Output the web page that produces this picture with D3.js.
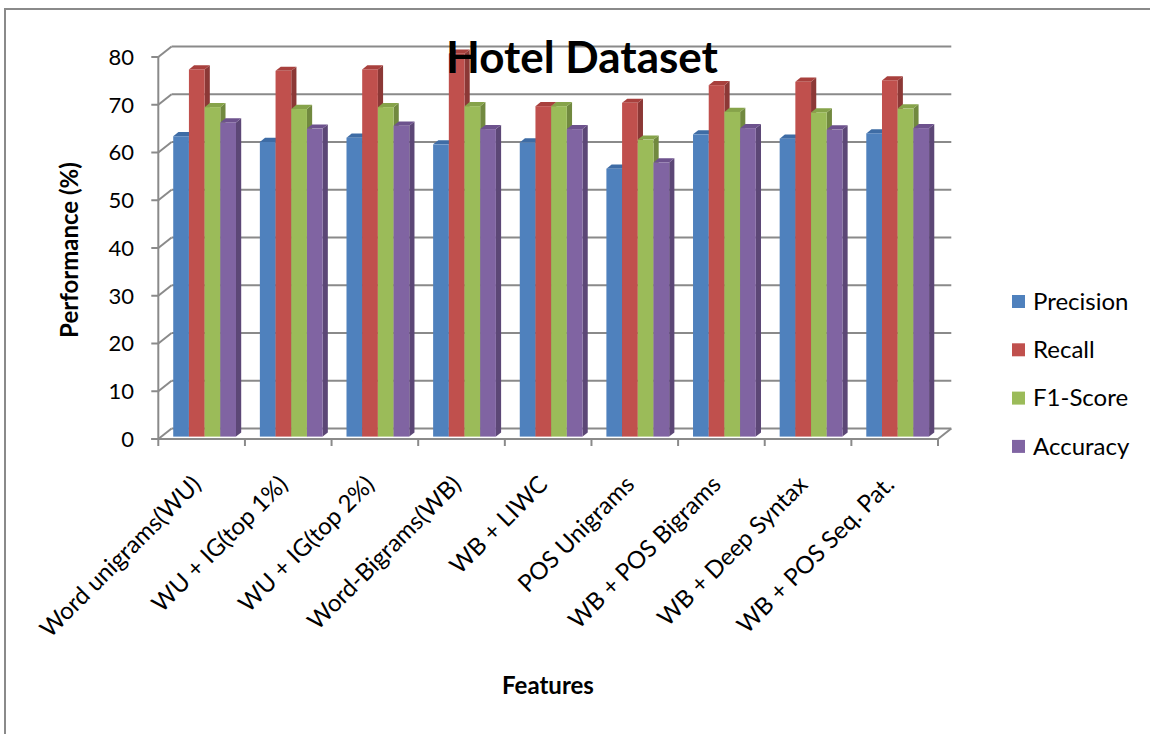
<!DOCTYPE html>
<html>
<head>
<meta charset="utf-8">
<script src="https://cdn.jsdelivr.net/npm/d3@7"></script>
<style>
  html, body { margin: 0; padding: 0; background: #fff; }
  svg { display: block; }
  text { font-family: Lato, "Open Sans", "DejaVu Sans", sans-serif; fill: #000; }
</style>
</head>
<body>
<svg id="chart" width="1150" height="734"></svg>
<script>
// Feature sets on the x axis
const categories = [
  "Word unigrams(WU)",
  "WU + IG(top 1%)",
  "WU + IG(top 2%)",
  "Word-Bigrams(WB)",
  "WB + LIWC",
  "POS Unigrams",
  "WB + POS Bigrams",
  "WB + Deep Syntax",
  "WB + POS Seq. Pat."
];

// Metric names (legend order)
const seriesNames = ["Precision", "Recall", "F1-Score", "Accuracy"];

// Scores in percent, one array per metric, in category order
const precision = [62.9, 61.7, 62.6, 61.2, 61.6, 56.1, 63.3, 62.4, 63.5];
const recall    = [76.9, 76.6, 76.9, 80.2, 69.2, 69.9, 73.6, 74.3, 74.6];
const f1Score   = [69.0, 68.6, 69.0, 69.2, 69.2, 62.2, 68.0, 67.9, 68.7];
const accuracy  = [65.8, 64.5, 65.1, 64.4, 64.4, 57.4, 64.6, 64.3, 64.6];

// Value axis ticks
const yTicks = [0, 10, 20, 30, 40, 50, 60, 70, 80];

const seriesValues = [precision, recall, f1Score, accuracy];

// Face colours: front, side, top
const frontColors = ["#4f81bd", "#c0504d", "#9bbb59", "#8064a2"];
const sideColors  = ["#385d8a", "#8c3836", "#71893f", "#5c4776"];
const topColors   = ["#3e6ca5", "#a8403d", "#86a34a", "#6d528d"];

const svg = d3.select("#chart");

// Frame around the chart area
svg.append("path")
  .attr("d", "M5,734 L5,9 L1150,9")
  .attr("fill", "none")
  .attr("stroke", "#8a8a8a")
  .attr("stroke-width", 2);

// Front plane geometry
const x0Left = 158.3, x0Right = 938;
const y = d3.scaleLinear().domain([0, 80]).range([439, 57]);
const x0 = d3.scaleBand().domain(categories).range([x0Left, x0Right]).padding(0);
const x1 = d3.scaleBand().domain(seriesNames).range([0, x0.bandwidth()]).paddingInner(0).paddingOuter(0.76);

// Depth offsets: back wall, bar front plane, bar thickness
const wall = { dx: 13.3, dy: -10.5 };
const barPlane = { dx: 3, dy: -2.4 };
const barDepth = { dx: 5.2, dy: -4.2 };

const gridColor = "#8a8a8a";
const grid = svg.append("g").attr("stroke", gridColor).attr("stroke-width", 2).attr("fill", "none");

// Back-wall gridlines plus the diagonal side-wall connectors
yTicks.forEach(t => {
  const yy = y(t);
  if (t > 0) {
    grid.append("line")
      .attr("x1", x0Left + wall.dx).attr("x2", x0Right + wall.dx)
      .attr("y1", yy + wall.dy).attr("y2", yy + wall.dy);
  }
  grid.append("line")
    .attr("x1", x0Left).attr("y1", yy)
    .attr("x2", x0Left + wall.dx).attr("y2", yy + wall.dy);
});

// Floor: back edge, right edge
grid.append("line")
  .attr("x1", x0Left + wall.dx).attr("x2", x0Right + wall.dx)
  .attr("y1", y(0) + wall.dy).attr("y2", y(0) + wall.dy);
grid.append("line")
  .attr("x1", x0Right).attr("y1", y(0))
  .attr("x2", x0Right + wall.dx).attr("y2", y(0) + wall.dy);

// Bars drawn as front face + right side + top face
const bars = svg.append("g");
categories.forEach((cat, ci) => {
  seriesNames.forEach((s, si) => {
    const v = seriesValues[si][ci];
    const xl = x0(cat) + x1(s) + barPlane.dx;
    const w = x1.bandwidth();
    const yTop = y(v) + barPlane.dy;
    const yBase = y(0) + barPlane.dy;
    const g = bars.append("g");
    g.append("path")
      .attr("d", `M${xl + w},${yTop} L${xl + w + barDepth.dx},${yTop + barDepth.dy} L${xl + w + barDepth.dx},${yBase + barDepth.dy} L${xl + w},${yBase} Z`)
      .attr("fill", sideColors[si]);
    g.append("path")
      .attr("d", `M${xl},${yTop} L${xl + barDepth.dx},${yTop + barDepth.dy} L${xl + w + barDepth.dx},${yTop + barDepth.dy} L${xl + w},${yTop} Z`)
      .attr("fill", topColors[si]);
    g.append("rect")
      .attr("x", xl).attr("y", yTop)
      .attr("width", w).attr("height", yBase - yTop)
      .attr("fill", frontColors[si]);
  });
});

// Front axes
const axes = svg.append("g").attr("stroke", gridColor).attr("stroke-width", 2).attr("fill", "none");
axes.append("line")
  .attr("x1", x0Left).attr("x2", x0Left)
  .attr("y1", y(80)).attr("y2", y(0));
axes.append("line")
  .attr("x1", x0Left - 7).attr("x2", x0Right)
  .attr("y1", y(0)).attr("y2", y(0));
yTicks.forEach(t => {
  axes.append("line")
    .attr("x1", x0Left - 7).attr("x2", x0Left)
    .attr("y1", y(t)).attr("y2", y(t));
});
categories.concat([null]).forEach((c, i) => {
  const xx = x0Left + i * x0.step();
  axes.append("line")
    .attr("x1", xx).attr("x2", xx)
    .attr("y1", y(0)).attr("y2", y(0) + 7);
});

// Y tick labels
svg.append("g").selectAll("text")
  .data(yTicks).join("text")
  .attr("x", 134)
  .attr("y", d => y(d))
  .attr("dy", "0.36em")
  .attr("text-anchor", "end")
  .attr("font-size", 22)
  .text(d => d);

// Rotated category labels
svg.append("g").selectAll("text")
  .data(categories).join("text")
  .attr("text-anchor", "end")
  .attr("font-size", 24)
  .attr("transform", d => `translate(${x0(d) + x0.bandwidth() / 2 + 1},${486}) rotate(-45)`)
  .text(d => d);

// Title
svg.append("text")
  .attr("x", 582).attr("y", 73)
  .attr("text-anchor", "middle")
  .attr("font-size", 44)
  .attr("font-weight", "bold")
  .text("Hotel Dataset");

// Axis titles
svg.append("text")
  .attr("transform", "translate(78,250) rotate(-90)")
  .attr("text-anchor", "middle")
  .attr("font-size", 24)
  .attr("font-weight", "bold")
  .text("Performance (%)");

svg.append("text")
  .attr("x", 548).attr("y", 694)
  .attr("text-anchor", "middle")
  .attr("font-size", 24)
  .attr("font-weight", "bold")
  .text("Features");

// Legend
const legend = svg.append("g");
seriesNames.forEach((s, i) => {
  const ly = 301 + i * 48.3;
  legend.append("rect")
    .attr("x", 1012).attr("y", ly - 6)
    .attr("width", 13).attr("height", 13)
    .attr("fill", frontColors[i]);
  legend.append("text")
    .attr("x", 1033).attr("y", ly)
    .attr("dy", "0.36em")
    .attr("font-size", 24)
    .text(s);
});
</script>
</body>
</html>
